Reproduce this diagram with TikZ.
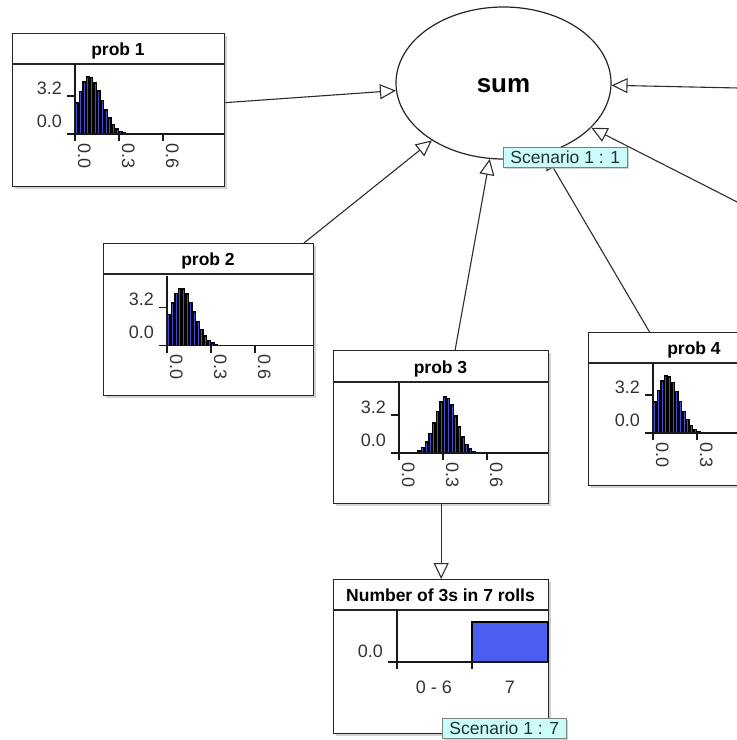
\documentclass[tikz,border=0pt]{standalone}
\usepackage{fontspec}
\setmainfont{Liberation Sans}
\usetikzlibrary{arrows.meta,shapes.geometric,calc,shadows}

\definecolor{barblue}{RGB}{66,76,205}
\definecolor{fillblue}{RGB}{74,94,240}
\definecolor{tagfill}{RGB}{204,252,250}
\definecolor{tagline}{RGB}{120,130,130}
\definecolor{tagtext}{RGB}{30,50,50}
\definecolor{inkgray}{RGB}{45,45,45}

\tikzset{
  boxnode/.style={rectangle, draw=black!85, line width=1.3pt, fill=white,
    inner sep=0pt, anchor=north west,
    drop shadow={shadow xshift=2.5pt, shadow yshift=-2.5pt, fill=black!35, opacity=0.5}},
  sepline/.style={draw=black!85, line width=1.3pt},
  axisline/.style={draw=black!90, line width=1.2pt},
  conn/.style={draw=inkgray, line width=1.1pt,
    -{Triangle[length=16pt, width=15pt, fill=white]}},
  titletext/.style={font=\fontsize{17.5}{18}\selectfont\bfseries, inner sep=0pt, anchor=base},
  ticktext/.style={font=\fontsize{18}{18}\selectfont, text=black!80, inner sep=0pt},
  tag/.style={rectangle, draw=tagline, line width=0.8pt, fill=tagfill, text=tagtext,
    font=\fontsize{17.5}{18}\selectfont, inner xsep=7pt, inner ysep=0pt,
    minimum height=20pt, anchor=north west,
    drop shadow={shadow xshift=2pt, shadow yshift=-2pt, fill=black!35, opacity=0.5}}
}

% histogram of a (skewed) bell shape: #1 mean, #2 left sd, #3 right sd, #4 peak density
\newcommand\denshist[4]{%
  \foreach \i in {0,...,31}{%
    \pgfmathsetmacro\hv{(\i+0.5)*0.025}%
    \pgfmathsetmacro\hsd{\hv<#1 ? #2 : #3}%
    \pgfmathsetmacro\hz{(\hv-#1)/\hsd}%
    \pgfmathsetmacro\he{min(0.5*\hz*\hz,20)}%
    \pgfmathsetmacro\hh{#4*11.875*exp(-\he)}%
    \pgfmathsetmacro\hx{63+\i*3.667}%
    \ifdim\hh pt>0.7pt
      \fill[black] (\hx,101) rectangle ({\hx+3.667},{101-\hh});%
      \ifdim\hh pt>3pt
        \fill[barblue] ({\hx+1.3},101) rectangle ({\hx+2.4},{101-\hh+1.6});%
      \fi
    \fi}}

% axes, ticks and tick labels of a density chart: #1 prefix, #2 width
\newcommand\densaxes[2]{%
  \draw[axisline] (63,31) -- (63,108);
  \draw[axisline] (55,101) -- (#2,101);
  \draw[axisline] (55,63) -- (63,63);
  \draw[axisline] (107,101) -- (107,108);
  \node[ticktext, anchor=base east] (#1y1) at (50,61) {3.2};
  \node[ticktext, anchor=base east] (#1y0) at (50,94) {0.0};
  \node[ticktext, rotate=-90, anchor=base west] (#1x0) at (66,110) {0.0};
  \node[ticktext, rotate=-90, anchor=base west] (#1x1) at (110,110) {0.3};
}
% the 0.6 tick with its label
\newcommand\denstickmax[1]{%
  \draw[axisline] (151,101) -- (151,108);
  \node[ticktext, rotate=-90, anchor=base west] (#1x2) at (154,110) {0.6};
}

\begin{document}
\begin{tikzpicture}[x=1pt, y=-1pt]
\useasboundingbox (0,0) rectangle (737,740);
\clip (0,0) rectangle (737,740);
\fill[white] (0,0) rectangle (737,740);

% central node
\node[ellipse, draw=black!85, line width=1.2pt, fill=white, inner sep=0pt,
      minimum width=215pt, minimum height=152pt] (sum) at (503.5,83) {};
\node[font=\fontsize{26}{26}\selectfont\bfseries, inner sep=0pt] (sumt) at (503.5,86) {sum};

% prob 1
\node[boxnode, minimum width=212pt, minimum height=153pt] (p1) at (12,33) {};
\begin{scope}[shift={(p1.north west)}]
  \draw[sepline] (0,31) -- (212,31);
  \node[titletext] (p1t) at (106,22) {prob 1};
  \denshist{0.095}{0.075}{0.09}{4.9}
  \densaxes{p1}{212}
  \denstickmax{p1}
\end{scope}

% prob 2
\node[boxnode, minimum width=210pt, minimum height=152pt] (p2) at (103,243) {};
\begin{scope}[shift={(p2.north west)}]
  \draw[sepline] (0,31) -- (210,31);
  \node[titletext] (p2t) at (105,22) {prob 2};
  \begin{scope}[shift={(1,1.5)}]
    \denshist{0.095}{0.075}{0.09}{4.9}
    \densaxes{p2}{209}
    \denstickmax{p2}
  \end{scope}
\end{scope}

% prob 3
\node[boxnode, minimum width=215pt, minimum height=153pt] (p3) at (333,350) {};
\begin{scope}[shift={(p3.north west)}]
  \draw[sepline] (0,32) -- (215,32);
  \node[titletext] (p3t) at (107.5,23) {prob 3};
  \begin{scope}[shift={(3,2)}]
    \denshist{0.32}{0.075}{0.075}{4.8}
    \densaxes{p3}{212}
    \denstickmax{p3}
  \end{scope}
\end{scope}

% prob 4
\node[boxnode, minimum width=212pt, minimum height=153pt] (p4) at (588,332) {};
\begin{scope}[shift={(p4.north west)}]
  \draw[sepline] (0,31) -- (212,31);
  \node[titletext] (p4t) at (106,22) {prob 4};
  \begin{scope}[shift={(2,0)}]
    \denshist{0.095}{0.075}{0.085}{4.9}
    \densaxes{p4}{210}
  \end{scope}
\end{scope}

% number of threes
\node[boxnode, minimum width=215pt, minimum height=154pt] (n3) at (333,579) {};
\begin{scope}[shift={(n3.north west)}]
  \draw[sepline] (0,31) -- (215,31);
  \node[titletext] (n3t) at (107.5,22) {Number of 3s in 7 rolls};
  \filldraw[fill=fillblue, draw=black, line width=1.2pt] (139,43) rectangle (215,83);
  \draw[axisline] (64,31) -- (64,90);
  \draw[axisline] (55,83) -- (215,83);
  \draw[axisline] (139,83) -- (139,90);
  \node[ticktext, anchor=base east] (n3y0) at (50,78) {0.0};
  \node[ticktext, anchor=base] (n3xa) at (101,114) {0 - 6};
  \node[ticktext, anchor=base] (n3xb) at (177,114) {7};
\end{scope}

% parents beyond the right edge
\coordinate (eastA) at (800,89.3);
\coordinate (eastB) at (800,234);

% connectors
\draw[conn] (p1) -- (sum);
\draw[conn] (p2) -- (sum);
\draw[conn] (p3) -- (sum);
\draw[conn] (p4) -- (sum);
\draw[conn] (eastA) -- (sum);
\draw[conn] (eastB) -- (sum);
\draw[conn] (p3) -- (n3);

% scenario tags
\node[tag] (tag1) at (503,147) {Scenario 1 : 1};
\node[tag] (tag7) at (442,718) {Scenario 1 : 7};
\end{tikzpicture}
\end{document}
